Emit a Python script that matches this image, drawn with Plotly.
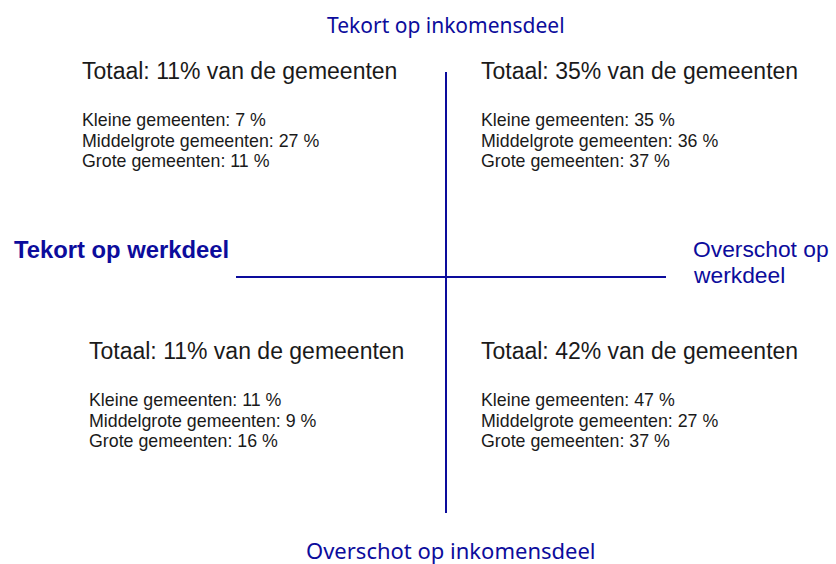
import plotly.graph_objects as go

# kwadranten: linksboven, rechtsboven, linksonder, rechtsonder
totaal = [11, 35, 11, 42]
kleine = [7, 35, 11, 47]
middelgroot = [27, 36, 9, 27]
groot = [11, 37, 16, 37]

as_boven = "Tekort op inkomensdeel"
as_onder = "Overschot op inkomensdeel"
as_links = "Tekort op werkdeel"
as_rechts = ["Overschot op", "werkdeel"]

W, H = 836, 564
blauw = "#0c0c9c"
zwart = "#1a1a1a"
font_tekst = "Liberation Sans, Arial, sans-serif"
font_as = "Noto Sans, Tahoma, sans-serif"

fig = go.Figure()

# assen (kruis)
fig.add_shape(type="line", x0=446, x1=446, y0=72, y1=513,
              line=dict(color=blauw, width=2))
fig.add_shape(type="line", x0=236, x1=666, y0=277, y1=277,
              line=dict(color=blauw, width=2))

# positie per kwadrant (links, midden van de totaalregel)
pos = [(80, 71), (479, 71), (87, 351), (479, 351)]

for i, (x, y) in enumerate(pos):
    fig.add_annotation(x=x, y=y, text=f"Totaal: {totaal[i]}% van de gemeenten",
                       xanchor="left", yanchor="middle", showarrow=False,
                       font=dict(family=font_tekst, size=23, color=zwart))
    regels = [f"Kleine gemeenten: {kleine[i]} %",
              f"Middelgrote gemeenten: {middelgroot[i]} %",
              f"Grote gemeenten: {groot[i]} %"]
    for j, r in enumerate(regels):
        fig.add_annotation(x=x, y=y + 49 + 20.5 * j, text=r,
                           xanchor="left", yanchor="middle", showarrow=False,
                           font=dict(family=font_tekst, size=17.8, color=zwart))

fig.add_annotation(x=446, y=25, text=as_boven, showarrow=False,
                   xanchor="center", yanchor="middle",
                   font=dict(family=font_as, size=21, color=blauw))
fig.add_annotation(x=451, y=550, text=as_onder, showarrow=False,
                   xanchor="center", yanchor="middle",
                   font=dict(family=font_as, size=22, color=blauw))
fig.add_annotation(x=12, y=249, text="<b>" + as_links + "</b>", showarrow=False,
                   xanchor="left", yanchor="middle",
                   font=dict(family=font_tekst, size=23.8, color=blauw))
for j, r in enumerate(as_rechts):
    fig.add_annotation(x=691, y=249 + 26 * j, text=r, showarrow=False,
                       xanchor="left", yanchor="middle",
                       font=dict(family=font_tekst, size=22.8, color=blauw))

fig.update_layout(
    width=W, height=H,
    margin=dict(l=0, r=0, t=0, b=0),
    paper_bgcolor="white", plot_bgcolor="white",
    xaxis=dict(range=[0, W], visible=False, fixedrange=True),
    yaxis=dict(range=[H, 0], visible=False, fixedrange=True),
    showlegend=False,
)

fig.write_html("out.html", config={"displayModeBar": False},
               post_script="document.body.style.margin='0';")
